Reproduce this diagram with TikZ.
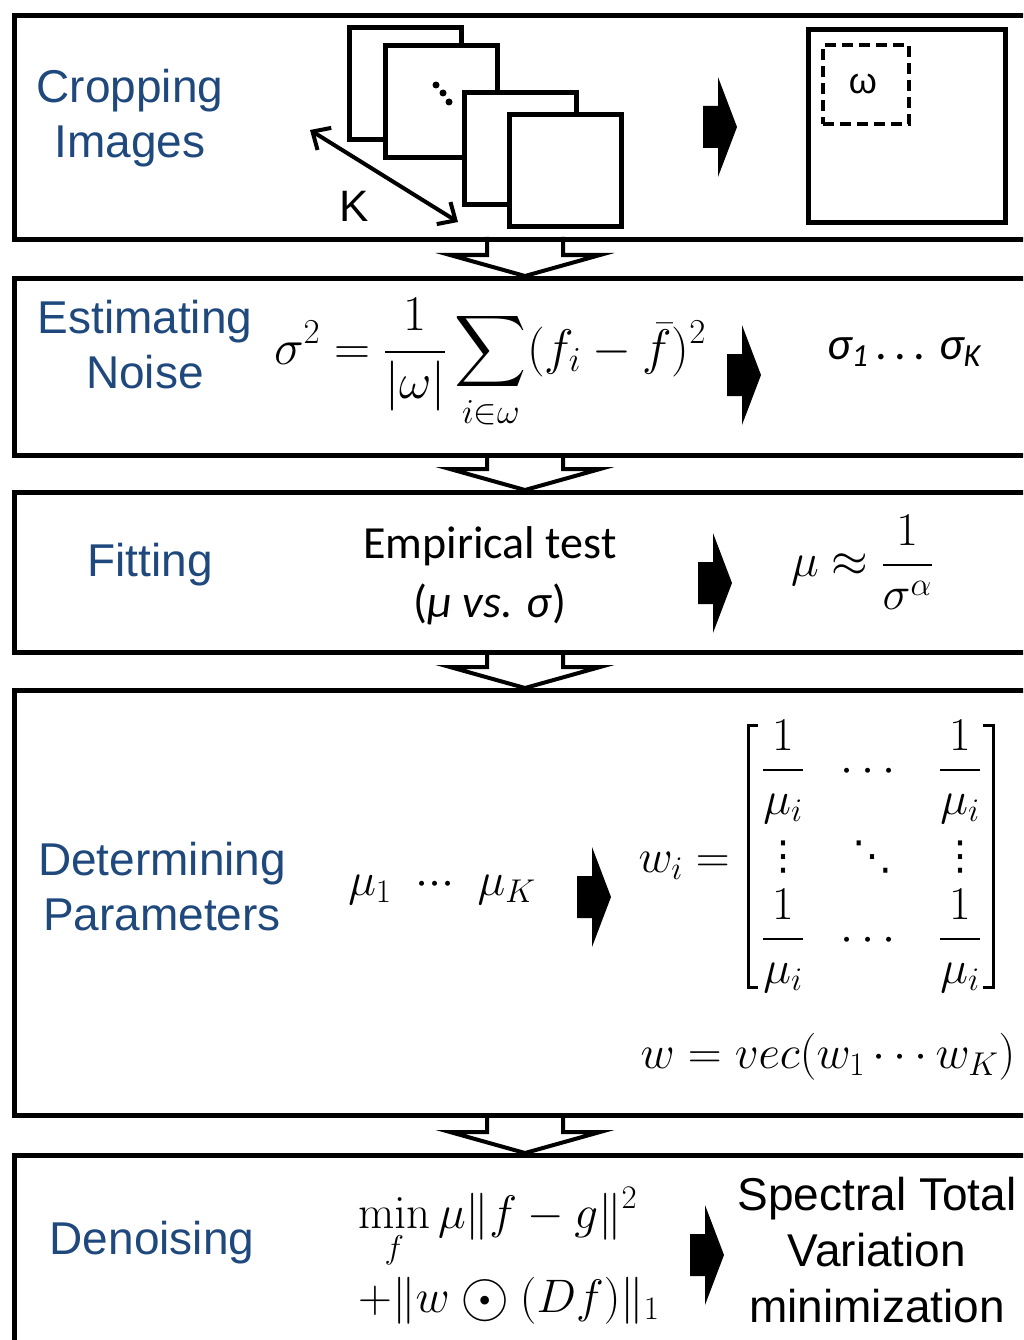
\RequirePackage{fix-cm}
\documentclass[tikz,border=0pt]{standalone}
\usepackage{amsmath}
\DeclareFontShape{OMX}{cmex}{m}{n}{<-> cmex10}{}
\usepackage[no-math]{fontspec}
\newfontfamily\arialf{Liberation Sans}
\newfontfamily\calibrif{Carlito}
\newfontfamily\dejavuf{DejaVu Sans}
\usetikzlibrary{arrows.meta}
\definecolor{lblue}{RGB}{31,73,125}
\tikzset{
  panel/.style={draw, line width=5, fill=white, rectangle, inner sep=0, anchor=north west},
  imgbox/.style={draw, line width=5, fill=white, rectangle, inner sep=0, anchor=north west},
  lbl/.style={text=lblue, font=\arialf\fontsize{46}{55}\selectfont, align=center, inner sep=0},
  mth/.style={font=\fontsize{47}{56}\selectfont, inner sep=0},
  dts/.style={font=\dejavuf\fontsize{40}{48}\selectfont, inner sep=0},
  cal/.style={font=\calibrif\fontsize{46}{58}\selectfont, inner sep=0, align=center},
  ari/.style={font=\arialf\fontsize{46}{56}\selectfont, inner sep=0, align=center},
  harrow/.style={draw, line width=4, line join=miter},
  barrow/.style={fill=black},
}
\newcommand{\bodot}{\mathbin{\vcenter{\hbox{\scalebox{1.35}{$\odot$}}}}}
\begin{document}
\begin{tikzpicture}[x=1pt,y=-1pt]
\useasboundingbox (0,0) rectangle (1023,1340);
\fill[white] (0,0) rectangle (1023,1340);
\clip (0,0) rectangle (1023,1340);

% panels
\node[panel, minimum width=1040, minimum height=224] (p1) at (12,13) {};
\node[panel, minimum width=1040, minimum height=177] (p2) at (12,276) {};
\node[panel, minimum width=1040, minimum height=160] (p3) at (12,490) {};
\node[panel, minimum width=1040, minimum height=425] (p4) at (12,688) {};
\node[panel, minimum width=1040, minimum height=240] (p5) at (12,1153) {};

% hollow down arrows between panels
\foreach \a/\b in {237/276, 453/490, 650/688, 1113/1153}{
  \draw[harrow] (487,\a) -- (487,\b-21) -- (450,\b-21) -- (525,\b) -- (600,\b-21) -- (563,\b-21) -- (563,\a);
}

% black right arrows
\foreach \x/\y in {703/127, 727/375, 698/583, 577/897, 690/1255}{
  \fill[barrow] (\x,\y-21) -- (\x+15,\y-21) -- (\x+15,\y-50) -- (\x+34,\y) -- (\x+15,\y+50) -- (\x+15,\y+21) -- (\x,\y+21) -- cycle;
}

% ---- panel 1
\node[lbl] (l1) at (130,118) {Cropping\\Images};
\node[imgbox, minimum width=112, minimum height=112] (ia) at (347,25) {};
\node[imgbox, minimum width=112, minimum height=112] (ib) at (383,43) {};
\node[imgbox, minimum width=112, minimum height=112] (ic) at (462,90) {};
\node[imgbox, minimum width=112, minimum height=112] (id) at (507,112) {};
\fill (436,85) circle (3.5) (443,93) circle (3.5) (449,102) circle (3.5);
\coordinate (ka) at (310,130);
\coordinate (kb) at (458,222);
\draw[line width=4, {Straight Barb[length=14,width=26,line width=4]}-{Straight Barb[length=14,width=26,line width=4]}] (ka) -- (kb);
\node[font=\arialf\fontsize{44}{50}\selectfont, inner sep=0] (K) at (354,206) {K};
\node[imgbox, minimum width=197, minimum height=193] (big) at (806,27) {};
\node[draw, dashed, dash pattern=on 11 off 6, line width=4, rectangle, inner sep=0, anchor=north west, minimum width=86, minimum height=79] (win) at (821,43) {};
\node[font=\arialf\fontsize{36}{40}\selectfont, inner sep=0] (om) at (863,84) {ω};

% ---- panel 2
\node[lbl] (l2) at (145,345) {Estimating\\Noise};
\node[mth, font=\fontsize{50}{60}\selectfont] (f2) at (490,364) {$\displaystyle \sigma^2 = \frac{1}{|\omega|}\sum_{i\in\omega}(f_i-\bar f)^2$};
\node[cal] (s2) at (904,352) {\itshape σ\textsubscript{1}\,.\,.\,.\;σ\textsubscript{K}};

% ---- panel 3
\node[lbl] (l3) at (150,565) {Fitting};
\node[cal] (e3) at (490,546) {Empirical test};
\node[cal] (v3) at (490,604) {(\textit{μ vs. σ})};
\node[mth] (f3) at (862,562) {$\mu \approx \dfrac{1}{\sigma^{\alpha}}$};

% ---- panel 4
\node[lbl] (l4) at (162,887) {Determining\\Parameters};
\node[mth] (mu) at (442,890) {$\mu_1\enspace{\cdotp}{\cdotp}{\cdotp}\enspace\mu_K$};
\node[mth, anchor=base east] (wi) at (730,872) {$w_i =$};
\draw[line width=3] (758,725) -- (748,725) -- (748,987) -- (758,987);
\draw[line width=3] (983,725) -- (993,725) -- (993,987) -- (983,987);
\node[mth, anchor=base] (m11) at (783,782) {$\displaystyle\frac{1}{\mu_i}$};
\node[mth, anchor=base] (m12) at (872,782) {$\cdots$};
\node[mth, anchor=base] (m13) at (960,782) {$\displaystyle\frac{1}{\mu_i}$};
\node[dts] (m21) at (783,857) {⋮};
\node[dts] (m22) at (872,857) {⋱};
\node[dts] (m23) at (960,857) {⋮};
\node[mth, anchor=base] (m31) at (783,951) {$\displaystyle\frac{1}{\mu_i}$};
\node[mth, anchor=base] (m32) at (872,951) {$\cdots$};
\node[mth, anchor=base] (m33) at (960,951) {$\displaystyle\frac{1}{\mu_i}$};
\node[mth, anchor=base] (wv) at (828,1068) {$w = vec(w_1 \cdots w_K)$};

% ---- panel 5
\node[lbl] (l5) at (152,1243) {Denoising};
\node[mth, anchor=base west] (d1) at (358,1228) {$\displaystyle\min_f \mu\|f-g\|^2$};
\node[mth, anchor=base west] (d2) at (358,1312) {$+\|w\bodot(Df)\|_1$};
\node[ari] (st) at (877,1250) {Spectral Total\\Variation\\minimization};
\end{tikzpicture}
\end{document}
